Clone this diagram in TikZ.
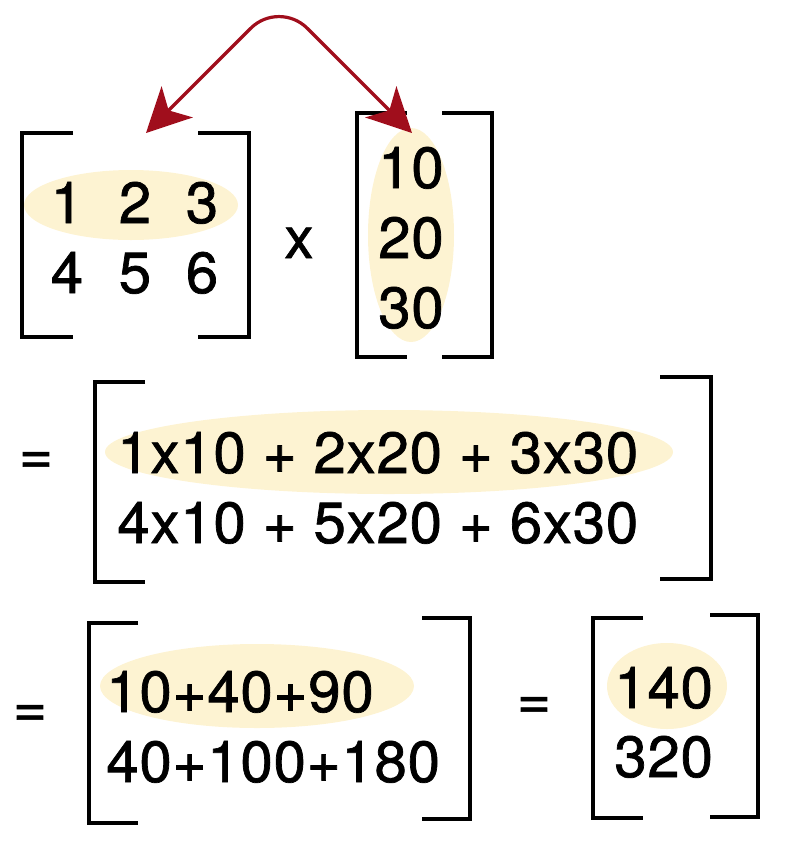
\documentclass[tikz,border=0pt]{standalone}
\usepackage{fontspec}
\setmainfont{TeX Gyre Heros}
\newfontfamily\numfont[FakeBold=1.2,LetterSpace=1.5]{TeX Gyre Heros}
\usetikzlibrary{arrows.meta,shapes.geometric}
\definecolor{hlyellow}{RGB}{253,243,210}
\definecolor{arrred}{RGB}{160,14,28}

\begin{document}
\begin{tikzpicture}[x=0.5pt,y=-0.5pt,
  num/.style={font=\numfont\fontsize{29}{34}\selectfont, inner sep=0pt},
  hl/.style={ellipse, fill=hlyellow, inner sep=0pt, outer sep=0pt},
  brk/.style={line width=1.65pt, line join=miter},
  link/.style={draw=arrred, line width=1.6pt, rounded corners=20pt, >={Stealth[length=22pt,width=22pt,inset=6pt]}}]
\useasboundingbox (0,0) rectangle (788,842);

% highlights
\node[hl, minimum width=107pt, minimum height=35pt] (rowhl) at (131,205) {};
\node[hl, minimum width=43pt, minimum height=107pt] (colhl) at (411,235) {};
\node[hl, minimum width=284pt, minimum height=42pt] (prodhl) at (389,452) {};
\node[hl, minimum width=157pt, minimum height=42pt] (sumhl) at (257,686) {};
\node[hl, minimum width=60pt, minimum height=43pt] (reshl) at (667,686) {};

% matrix
\node[num, anchor=base] (a11) at (67,223) {1};
\node[num, anchor=base] (a12) at (135,223) {2};
\node[num, anchor=base] (a13) at (202,223) {3};
\node[num, anchor=base] (a21) at (67,293) {4};
\node[num, anchor=base] (a22) at (135,293) {5};
\node[num, anchor=base] (a23) at (202,293) {6};
\draw[brk] (73,133) -- (22,133) -- (22,337) -- (73,337);
\draw[brk] (198,133) -- (249,133) -- (249,337) -- (198,337);

\node[num, anchor=base] (times) at (299,258) {x};

% vector
\node[num, anchor=base] (b1) at (411,188) {10};
\node[num, anchor=base] (b2) at (411,258) {20};
\node[num, anchor=base] (b3) at (411,328) {30};
\draw[brk] (407,113) -- (357,113) -- (357,357) -- (407,357);
\draw[brk] (442,113) -- (492,113) -- (492,357) -- (442,357);

% products
\node[num] (eq1) at (36,463) {=};
\node[num, anchor=base west] (prod1) at (117,473) {1x10 + 2x20 + 3x30};
\node[num, anchor=base west] (prod2) at (117,543) {4x10 + 5x20 + 6x30};
\draw[brk] (145,382) -- (95,382) -- (95,582) -- (145,582);
\draw[brk] (660,377) -- (711,377) -- (711,579) -- (660,579);

% sums
\node[num] (eq2) at (30,716) {=};
\node[num, anchor=base west] (sum1) at (106,712) {10+40+90};
\node[num, anchor=base west] (sum2) at (106,782) {40+100+180};
\draw[brk] (138,623) -- (89,623) -- (89,823) -- (138,823);
\draw[brk] (422,618) -- (470,618) -- (470,819) -- (422,819);

% result
\node[num] (eq3) at (534,708) {=};
\node[num, anchor=base west] (res1) at (614,708) {140};
\node[num, anchor=base west] (res2) at (614,777) {320};
\draw[brk] (643,618) -- (593,618) -- (593,818) -- (643,818);
\draw[brk] (710,615) -- (758,615) -- (758,817) -- (710,817);

% row times column
\coordinate (rowtip) at (146,133);
\coordinate (apex) at (279,0);
\coordinate (coltip) at (412,133);
\draw[link, <->] (rowtip) -- (apex) -- (coltip);
\end{tikzpicture}
\end{document}
